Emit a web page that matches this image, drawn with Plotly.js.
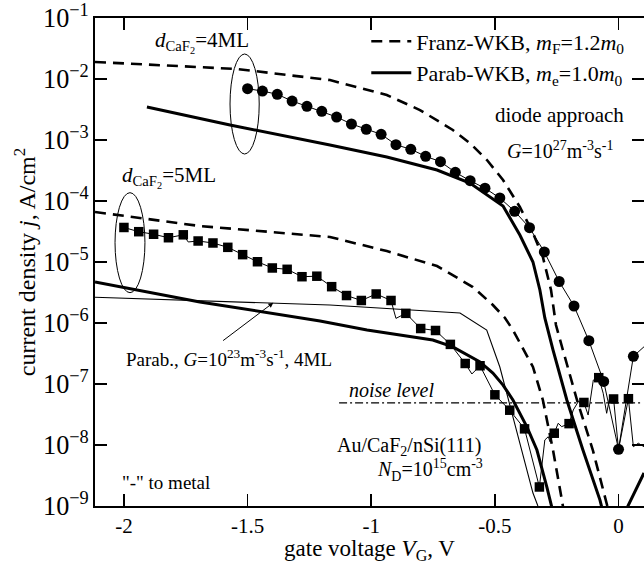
<!DOCTYPE html>
<html>
<head>
<meta charset="utf-8">
<script src="https://cdn.plot.ly/plotly-3.0.1.min.js"></script>
<style>html,body{margin:0;padding:0;background:#fff}</style>
</head>
<body>
<div id="chart" style="width:644px;height:564px"></div>
<script>
// ---- data (gate voltage V, current density A/cm^2) ----
var franz4V = [-2.117,-1.543,-1.167,-0.937,-0.803,-0.670,-0.601,-0.532,-0.467,-0.399,-0.346,-0.306,-0.273,-0.253,-0.225,-0.168,-0.104,-0.047,-0.039];
var franz4J = [1.90e-2,1.46e-2,9.6e-3,5.47e-3,3.10e-3,1.46e-3,8.9e-4,4.70e-4,2.21e-4,7.98e-5,2.99e-5,1.21e-5,3.48e-6,9.27e-7,3.61e-7,5.47e-8,8.28e-9,1.12e-9,7.98e-10];
var parab4V = [-1.907,-1.571,-1.167,-0.937,-0.734,-0.601,-0.467,-0.399,-0.346,-0.318,-0.298,-0.265,-0.209,-0.144,-0.075,-0.063];
var parab4J = [3.48e-3,1.76e-3,8.28e-4,5.26e-4,3.22e-4,1.97e-4,8.28e-5,2.77e-5,1.0e-5,3.48e-6,1.21e-6,3.61e-7,5.47e-8,8.28e-9,1.25e-9,7.98e-10];
var franz5V = [-2.117,-1.693,-1.167,-0.937,-0.734,-0.589,-0.508,-0.459,-0.427,-0.346,-0.306,-0.265,-0.229,-0.221];
var franz5J = [6.61e-5,3.89e-5,2.57e-5,1.51e-5,8.59e-6,3.89e-6,1.97e-6,1.21e-6,7.67e-7,1.90e-7,5.47e-8,8.28e-9,1.25e-9,7.98e-10];
var parab5V = [-2.117,-1.693,-1.207,-1.017,-0.751,-0.670,-0.560,-0.508,-0.467,-0.427,-0.370,-0.330,-0.290,-0.269,-0.265];
var parab5J = [4.70e-6,2.21e-6,1.08e-6,7.67e-7,5.26e-7,4.05e-7,2.30e-7,1.51e-7,9.6e-8,5.47e-8,1.97e-8,8.28e-9,2.05e-9,9.6e-10,7.98e-10];
var riseV = [0.030,0.038,0.103];
var riseJ = [7.1e-10,1.0e-9,3.48e-9];
var g23V = [-2.117,-1.167,-0.641,-0.533,-0.480,-0.346,-0.326,-0.31];
var g23J = [2.64e-6,1.97e-6,1.46e-6,7.67e-7,1.90e-7,1.63e-9,1.0e-9,7e-10];
var noiseV = [-1.13,0.088];
var noiseJ = [4.9e-8,4.9e-8];
var circV = [-1.5,-1.44,-1.38,-1.32,-1.26,-1.2,-1.14,-1.08,-1.02,-0.96,-0.9,-0.84,-0.78,-0.72,-0.66,-0.6,-0.54,-0.48,-0.42,-0.36,-0.3,-0.24,-0.18,-0.12,-0.06,0,0.06];
var circJ = [6.93e-3,6.35e-3,5.61e-3,4.35e-3,3.57e-3,2.95e-3,2.38e-3,1.83e-3,1.50e-3,1.24e-3,8.37e-4,7.04e-4,5.41e-4,4.41e-4,2.95e-4,2.15e-4,1.62e-4,1.12e-4,6.78e-5,3.65e-5,1.46e-5,4.79e-6,1.90e-6,5.13e-7,1.10e-7,8.5e-9,2.84e-7];
var circExtraV = [0.103];
var circExtraJ = [4.08e-7];
var sqV = [-2,-1.94,-1.88,-1.82,-1.76,-1.7,-1.64,-1.58,-1.52,-1.46,-1.4,-1.34,-1.28,-1.22,-1.16,-1.1,-1.04,-0.98,-0.92,-0.86,-0.8,-0.74,-0.68,-0.62,-0.56,-0.5,-0.44,-0.38,-0.32,-0.26,-0.2,-0.14,-0.08,-0.02,0.04];
var sqJ = [3.68e-5,3.14e-5,2.85e-5,2.50e-5,2.79e-5,2.21e-5,2.05e-5,1.74e-5,1.32e-5,1.01e-5,7.98e-6,7.59e-6,5.74e-6,5.85e-6,3.94e-6,2.82e-6,2.34e-6,2.99e-6,2.34e-6,1.44e-6,8.12e-7,7.54e-7,4.46e-7,2.17e-7,1.99e-7,6.65e-8,3.72e-8,1.84e-8,2.05e-9,1.56e-8,2.24e-8,4.98e-8,1.27e-7,5.68e-8,5.74e-8];
var sqWigV = [-1.74,-0.9,-0.593,-0.298,-0.284,-0.277,-0.244,-0.230,-0.183,-0.163,-0.123,-0.102,-0.062,-0.048,-0.035,0.0,0.060,0.080,0.103];
var sqWigJ = [2.13e-5,1.19e-6,1.46e-7,1.21e-8,1.37e-8,1.13e-8,2.27e-8,2.0e-8,3.75e-8,5.13e-8,3.1e-8,1.16e-7,7.05e-8,3.31e-8,6.2e-8,8.5e-9,9.37e-9,1.07e-8,9.37e-9];
var xTickVals = [-2,-1.5,-1,-0.5,0];
var xTickText = ['-2','-1.5','-1','-0.5','0'];

function merge(aV,aJ,bV,bJ){
  var pts=[];
  for(var i=0;i<aV.length;i++) pts.push([aV[i],aJ[i]]);
  for(var k=0;k<bV.length;k++) pts.push([bV[k],bJ[k]]);
  pts.sort(function(p,q){return p[0]-q[0];});
  return {x:pts.map(function(p){return p[0];}), y:pts.map(function(p){return p[1];})};
}
var sqRaw = merge(sqV,sqJ,sqWigV,sqWigJ);
var circRaw = merge(circV,circJ,circExtraV,circExtraJ);

var FONT = 'Liberation Serif, Times New Roman, serif';
var dashStyle = '11px,7px';
var traces = [
  {x:franz4V,y:franz4J,mode:'lines',line:{color:'#000',width:2.6,dash:dashStyle},name:'Franz-WKB, <i>m</i><sub>F</sub>=1.2<i>m</i><sub>0</sub>',showlegend:true},
  {x:parab4V,y:parab4J,mode:'lines',line:{color:'#000',width:3},name:'Parab-WKB, <i>m</i><sub>e</sub>=1.0<i>m</i><sub>0</sub>',showlegend:true},
  {x:franz5V,y:franz5J,mode:'lines',line:{color:'#000',width:2.6,dash:dashStyle},showlegend:false},
  {x:parab5V,y:parab5J,mode:'lines',line:{color:'#000',width:3},showlegend:false},
  {x:riseV,y:riseJ,mode:'lines',line:{color:'#000',width:3},showlegend:false},
  {x:g23V,y:g23J,mode:'lines',line:{color:'#000',width:1.1},showlegend:false},
  {x:noiseV,y:noiseJ,mode:'lines',line:{color:'#000',width:1.1,dash:'8px,3px,2px,3px'},showlegend:false},
  {x:sqRaw.x,y:sqRaw.y,mode:'lines',line:{color:'#000',width:1},showlegend:false},
  {x:circRaw.x,y:circRaw.y,mode:'lines',line:{color:'#000',width:1},showlegend:false},
  {x:sqV,y:sqJ,mode:'markers',marker:{symbol:'square',size:9.5,color:'#000'},showlegend:false},
  {x:circV,y:circJ,mode:'markers',marker:{symbol:'circle',size:11,color:'#000'},showlegend:false}
];

function ann(text,x,ly,xanchor,size){
  return {text:text,x:x,y:ly,xref:'x',yref:'y',xanchor:xanchor,yanchor:'middle',align:xanchor,showarrow:false,font:{family:FONT,size:size,color:'#000'}};
}
var annotations = [
  ann('<i>d</i><sub>CaF<sub>2</sub></sub>=4ML',-1.884,-1.40,'left',21),
  ann('<i>d</i><sub>CaF<sub>2</sub></sub>=5ML',-2.016,-3.60,'left',21),
  ann('diode approach',0.030,-2.59,'right',21),
  ann('<i>G</i>=10<sup>27</sup>m<sup>-3</sup>s<sup>-1</sup>',-0.015,-3.16,'right',20),
  ann('Parab., <i>G</i>=10<sup>23</sup>m<sup>-3</sup>s<sup>-1</sup>, 4ML',-2.0,-6.57,'left',19),
  ann('<i>noise level</i>',-1.10,-7.10,'left',20),
  ann('Au/CaF<sub>2</sub>/nSi(111)',-1.147,-8.02,'left',20),
  ann('<i>N</i><sub>D</sub>=10<sup>15</sup>cm<sup>-3</sup>',-0.985,-8.41,'left',20),
  ann('"-" to metal',-2.016,-8.61,'left',19),
  {x:-1.396,y:-5.667,ax:-1.605,ay:-6.307,axref:'x',ayref:'y',xref:'x',yref:'y',text:'',showarrow:true,arrowhead:2,arrowsize:1,arrowwidth:1,arrowcolor:'#000'}
];

var shapes = [
  {type:'circle',xref:'x',yref:'y',x0:-1.571,x1:-1.453,y0:2.57e-2,y1:5.89e-4,line:{color:'#000',width:1}},
  {type:'circle',xref:'x',yref:'y',x0:-2.036,x1:-1.915,y0:1.37e-4,y1:3.14e-6,line:{color:'#000',width:1}}
];

var axisCommon = {showline:true,linecolor:'#000',linewidth:2,mirror:'ticks',ticks:'inside',ticklen:12,tickwidth:1.5,tickcolor:'#000',showgrid:false,zeroline:false,tickfont:{family:FONT,size:21,color:'#000'}};
var layout = {
  width:644,height:564,
  margin:{l:95,r:0,t:18,b:58},
  paper_bgcolor:'#fff',plot_bgcolor:'#fff',
  font:{family:FONT,color:'#000'},
  xaxis:Object.assign({},axisCommon,{range:[-2.117,0.103],tickvals:xTickVals,ticktext:xTickText,
    title:{text:'gate voltage <i>V</i><sub>G</sub>, V',font:{family:FONT,size:23,color:'#000'},standoff:5}}),
  yaxis:Object.assign({},axisCommon,{type:'log',range:[-9,-1],dtick:1,exponentformat:'power',
    title:{text:'current density <i>j</i>, A/cm<sup>2</sup>',font:{family:FONT,size:24,color:'#000'},standoff:1}}),
  showlegend:true,
  legend:{x:0.975,y:0.995,xanchor:'right',yanchor:'top',bgcolor:'rgba(0,0,0,0)',font:{family:FONT,size:22,color:'#000'},tracegroupgap:0,itemwidth:40},
  annotations:annotations,
  shapes:shapes
};
Plotly.newPlot('chart',traces,layout,{displayModeBar:false,staticPlot:true});
</script>
</body>
</html>
